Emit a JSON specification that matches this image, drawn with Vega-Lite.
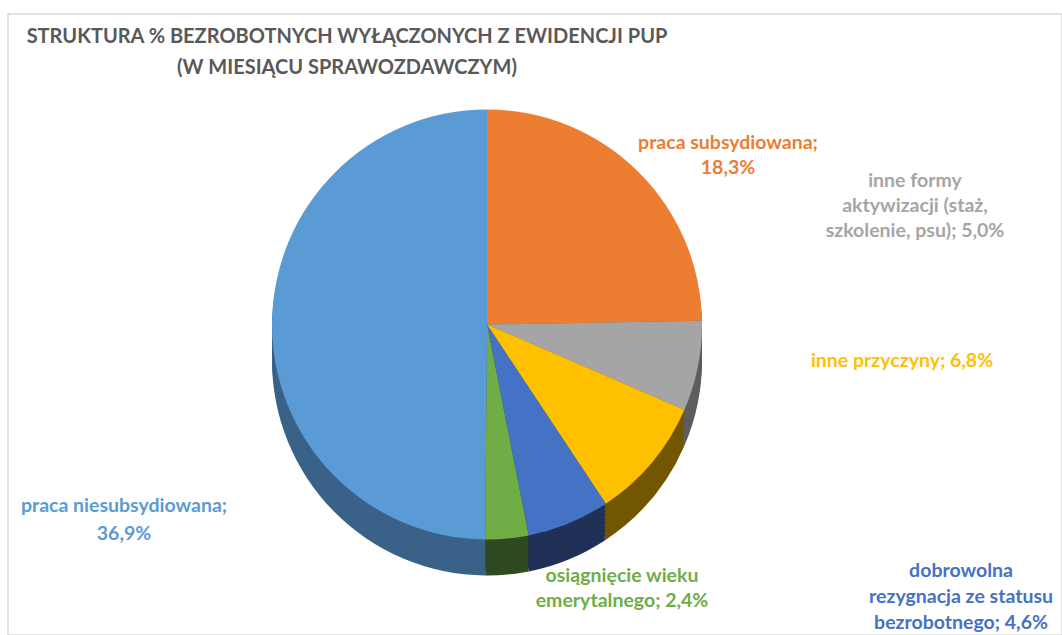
{
  "$schema": "https://vega.github.io/schema/vega-lite/v6.json",
  "width": 1054,
  "height": 621,
  "autosize": "none",
  "padding": {"left": 8, "top": 14, "right": 0, "bottom": 0},
  "background": "white",
  "view": {"stroke": "#D9D9D9", "strokeWidth": 1.5, "fill": "white"},
  "title": {
    "text": ["STRUKTURA % BEZROBOTNYCH WYŁĄCZONYCH Z EWIDENCJI PUP", "(W MIESIĄCU SPRAWOZDAWCZYM)"],
    "anchor": "start",
    "frame": "group",
    "align": "center",
    "dx": 339,
    "font": "Lato",
    "fontSize": 20,
    "fontWeight": "bold",
    "color": "#595959",
    "lineHeight": 31,
    "offset": -64
  },
  "datasets": {
    "d": [
      {"cat": "praca subsydiowana", "ord": 1, "value": 18.3, "label": "praca subsydiowana;\n18,3%"},
      {"cat": "inne formy aktywizacji", "ord": 2, "value": 5.0, "label": "inne formy\naktywizacji (staż,\nszkolenie, psu); 5,0%"},
      {"cat": "inne przyczyny", "ord": 3, "value": 6.8, "label": "inne przyczyny; 6,8%"},
      {"cat": "dobrowolna rezygnacja", "ord": 4, "value": 4.6, "label": "dobrowolna\nrezygnacja ze statusu\nbezrobotnego; 4,6%"},
      {"cat": "osiągnięcie wieku emerytalnego", "ord": 5, "value": 2.4, "label": "osiągnięcie wieku\nemerytalnego; 2,4%"},
      {"cat": "praca niesubsydiowana", "ord": 6, "value": 36.9, "label": "praca niesubsydiowana;\n36,9%"}
    ]
  },
  "data": {"name": "d"},
  "resolve": {"scale": {"color": "independent"}},
  "layer": [
    {"mark": {"type": "arc", "outerRadius": 215, "xOffset": -48, "yOffset": 36},
     "encoding": {"theta": {"field": "value", "type": "quantitative", "stack": true}, "order": {"field": "ord", "type": "quantitative"},
       "color": {"field": "cat", "type": "nominal", "legend": null, "scale": {"domain": ["praca subsydiowana", "inne formy aktywizacji", "inne przyczyny", "dobrowolna rezygnacja", "osiągnięcie wieku emerytalnego", "praca niesubsydiowana"], "range": ["#8a4a1d", "#5e5e5e", "#735600", "#1f3157", "#2f4a21", "#3a6289"]}}}},
    {"mark": {"type": "arc", "outerRadius": 215, "xOffset": -48, "yOffset": 32},
     "encoding": {"theta": {"field": "value", "type": "quantitative", "stack": true}, "order": {"field": "ord", "type": "quantitative"},
       "color": {"field": "cat", "type": "nominal", "legend": null, "scale": {"domain": ["praca subsydiowana", "inne formy aktywizacji", "inne przyczyny", "dobrowolna rezygnacja", "osiągnięcie wieku emerytalnego", "praca niesubsydiowana"], "range": ["#8a4a1d", "#5e5e5e", "#735600", "#1f3157", "#2f4a21", "#3a6289"]}}}},
    {"mark": {"type": "arc", "outerRadius": 215, "xOffset": -48, "yOffset": 28},
     "encoding": {"theta": {"field": "value", "type": "quantitative", "stack": true}, "order": {"field": "ord", "type": "quantitative"},
       "color": {"field": "cat", "type": "nominal", "legend": null, "scale": {"domain": ["praca subsydiowana", "inne formy aktywizacji", "inne przyczyny", "dobrowolna rezygnacja", "osiągnięcie wieku emerytalnego", "praca niesubsydiowana"], "range": ["#8a4a1d", "#5e5e5e", "#735600", "#1f3157", "#2f4a21", "#3a6289"]}}}},
    {"mark": {"type": "arc", "outerRadius": 215, "xOffset": -48, "yOffset": 24},
     "encoding": {"theta": {"field": "value", "type": "quantitative", "stack": true}, "order": {"field": "ord", "type": "quantitative"},
       "color": {"field": "cat", "type": "nominal", "legend": null, "scale": {"domain": ["praca subsydiowana", "inne formy aktywizacji", "inne przyczyny", "dobrowolna rezygnacja", "osiągnięcie wieku emerytalnego", "praca niesubsydiowana"], "range": ["#8a4a1d", "#5e5e5e", "#735600", "#1f3157", "#2f4a21", "#3a6289"]}}}},
    {"mark": {"type": "arc", "outerRadius": 215, "xOffset": -48, "yOffset": 20},
     "encoding": {"theta": {"field": "value", "type": "quantitative", "stack": true}, "order": {"field": "ord", "type": "quantitative"},
       "color": {"field": "cat", "type": "nominal", "legend": null, "scale": {"domain": ["praca subsydiowana", "inne formy aktywizacji", "inne przyczyny", "dobrowolna rezygnacja", "osiągnięcie wieku emerytalnego", "praca niesubsydiowana"], "range": ["#8a4a1d", "#5e5e5e", "#735600", "#1f3157", "#2f4a21", "#3a6289"]}}}},
    {"mark": {"type": "arc", "outerRadius": 215, "xOffset": -48, "yOffset": 16},
     "encoding": {"theta": {"field": "value", "type": "quantitative", "stack": true}, "order": {"field": "ord", "type": "quantitative"},
       "color": {"field": "cat", "type": "nominal", "legend": null, "scale": {"domain": ["praca subsydiowana", "inne formy aktywizacji", "inne przyczyny", "dobrowolna rezygnacja", "osiągnięcie wieku emerytalnego", "praca niesubsydiowana"], "range": ["#8a4a1d", "#5e5e5e", "#735600", "#1f3157", "#2f4a21", "#3a6289"]}}}},
    {"mark": {"type": "arc", "outerRadius": 215, "xOffset": -48, "yOffset": 12},
     "encoding": {"theta": {"field": "value", "type": "quantitative", "stack": true}, "order": {"field": "ord", "type": "quantitative"},
       "color": {"field": "cat", "type": "nominal", "legend": null, "scale": {"domain": ["praca subsydiowana", "inne formy aktywizacji", "inne przyczyny", "dobrowolna rezygnacja", "osiągnięcie wieku emerytalnego", "praca niesubsydiowana"], "range": ["#8a4a1d", "#5e5e5e", "#735600", "#1f3157", "#2f4a21", "#3a6289"]}}}},
    {"mark": {"type": "arc", "outerRadius": 215, "xOffset": -48, "yOffset": 8},
     "encoding": {"theta": {"field": "value", "type": "quantitative", "stack": true}, "order": {"field": "ord", "type": "quantitative"},
       "color": {"field": "cat", "type": "nominal", "legend": null, "scale": {"domain": ["praca subsydiowana", "inne formy aktywizacji", "inne przyczyny", "dobrowolna rezygnacja", "osiągnięcie wieku emerytalnego", "praca niesubsydiowana"], "range": ["#8a4a1d", "#5e5e5e", "#735600", "#1f3157", "#2f4a21", "#3a6289"]}}}},
    {"mark": {"type": "arc", "outerRadius": 215, "xOffset": -48, "yOffset": 4},
     "encoding": {"theta": {"field": "value", "type": "quantitative", "stack": true}, "order": {"field": "ord", "type": "quantitative"},
       "color": {"field": "cat", "type": "nominal", "legend": null, "scale": {"domain": ["praca subsydiowana", "inne formy aktywizacji", "inne przyczyny", "dobrowolna rezygnacja", "osiągnięcie wieku emerytalnego", "praca niesubsydiowana"], "range": ["#8a4a1d", "#5e5e5e", "#735600", "#1f3157", "#2f4a21", "#3a6289"]}}}},
    {"mark": {"type": "arc", "outerRadius": 215, "xOffset": -48},
     "encoding": {"theta": {"field": "value", "type": "quantitative", "stack": true}, "order": {"field": "ord", "type": "quantitative"},
       "color": {"field": "cat", "type": "nominal", "legend": null, "scale": {"domain": ["praca subsydiowana", "inne formy aktywizacji", "inne przyczyny", "dobrowolna rezygnacja", "osiągnięcie wieku emerytalnego", "praca niesubsydiowana"], "range": ["#ED7D31", "#A5A5A5", "#FFC000", "#4472C4", "#70AD47", "#5B9BD5"]}}}},
    {"mark": {"type": "text", "radius": 0, "dx": 193, "dy": -182, "font": "Lato", "fontWeight": "bold", "fontSize": 19.5, "lineBreak": "\n", "lineHeight": 25, "color": "#ED7D31", "align": "center", "baseline": "middle"},
     "encoding": {"theta": {"field": "value", "type": "quantitative", "stack": true}, "order": {"field": "ord", "type": "quantitative"},
       "text": {"condition": {"test": "datum.cat === 'praca subsydiowana'", "field": "label"}, "value": ""}}},
    {"mark": {"type": "text", "radius": 0, "dx": 380, "dy": -144, "font": "Lato", "fontWeight": "bold", "fontSize": 19.5, "lineBreak": "\n", "lineHeight": 25, "color": "#A5A5A5", "align": "center", "baseline": "middle"},
     "encoding": {"theta": {"field": "value", "type": "quantitative", "stack": true}, "order": {"field": "ord", "type": "quantitative"},
       "text": {"condition": {"test": "datum.cat === 'inne formy aktywizacji'", "field": "label"}, "value": ""}}},
    {"mark": {"type": "text", "radius": 0, "dx": 367, "dy": 36, "font": "Lato", "fontWeight": "bold", "fontSize": 19.5, "lineBreak": "\n", "lineHeight": 25, "color": "#FFC000", "align": "center", "baseline": "middle"},
     "encoding": {"theta": {"field": "value", "type": "quantitative", "stack": true}, "order": {"field": "ord", "type": "quantitative"},
       "text": {"condition": {"test": "datum.cat === 'inne przyczyny'", "field": "label"}, "value": ""}}},
    {"mark": {"type": "text", "radius": 0, "dx": 426, "dy": 246, "font": "Lato", "fontWeight": "bold", "fontSize": 19.5, "lineBreak": "\n", "lineHeight": 26, "color": "#4472C4", "align": "center", "baseline": "middle"},
     "encoding": {"theta": {"field": "value", "type": "quantitative", "stack": true}, "order": {"field": "ord", "type": "quantitative"},
       "text": {"condition": {"test": "datum.cat === 'dobrowolna rezygnacja'", "field": "label"}, "value": ""}}},
    {"mark": {"type": "text", "radius": 0, "dx": 87, "dy": 251, "font": "Lato", "fontWeight": "bold", "fontSize": 19.5, "lineBreak": "\n", "lineHeight": 25, "color": "#70AD47", "align": "center", "baseline": "middle"},
     "encoding": {"theta": {"field": "value", "type": "quantitative", "stack": true}, "order": {"field": "ord", "type": "quantitative"},
       "text": {"condition": {"test": "datum.cat === 'osiągnięcie wieku emerytalnego'", "field": "label"}, "value": ""}}},
    {"mark": {"type": "text", "radius": 0, "dx": -411, "dy": 181, "font": "Lato", "fontWeight": "bold", "fontSize": 19.5, "lineBreak": "\n", "lineHeight": 28, "color": "#5B9BD5", "align": "center", "baseline": "middle"},
     "encoding": {"theta": {"field": "value", "type": "quantitative", "stack": true}, "order": {"field": "ord", "type": "quantitative"},
       "text": {"condition": {"test": "datum.cat === 'praca niesubsydiowana'", "field": "label"}, "value": ""}}}
  ]
}
